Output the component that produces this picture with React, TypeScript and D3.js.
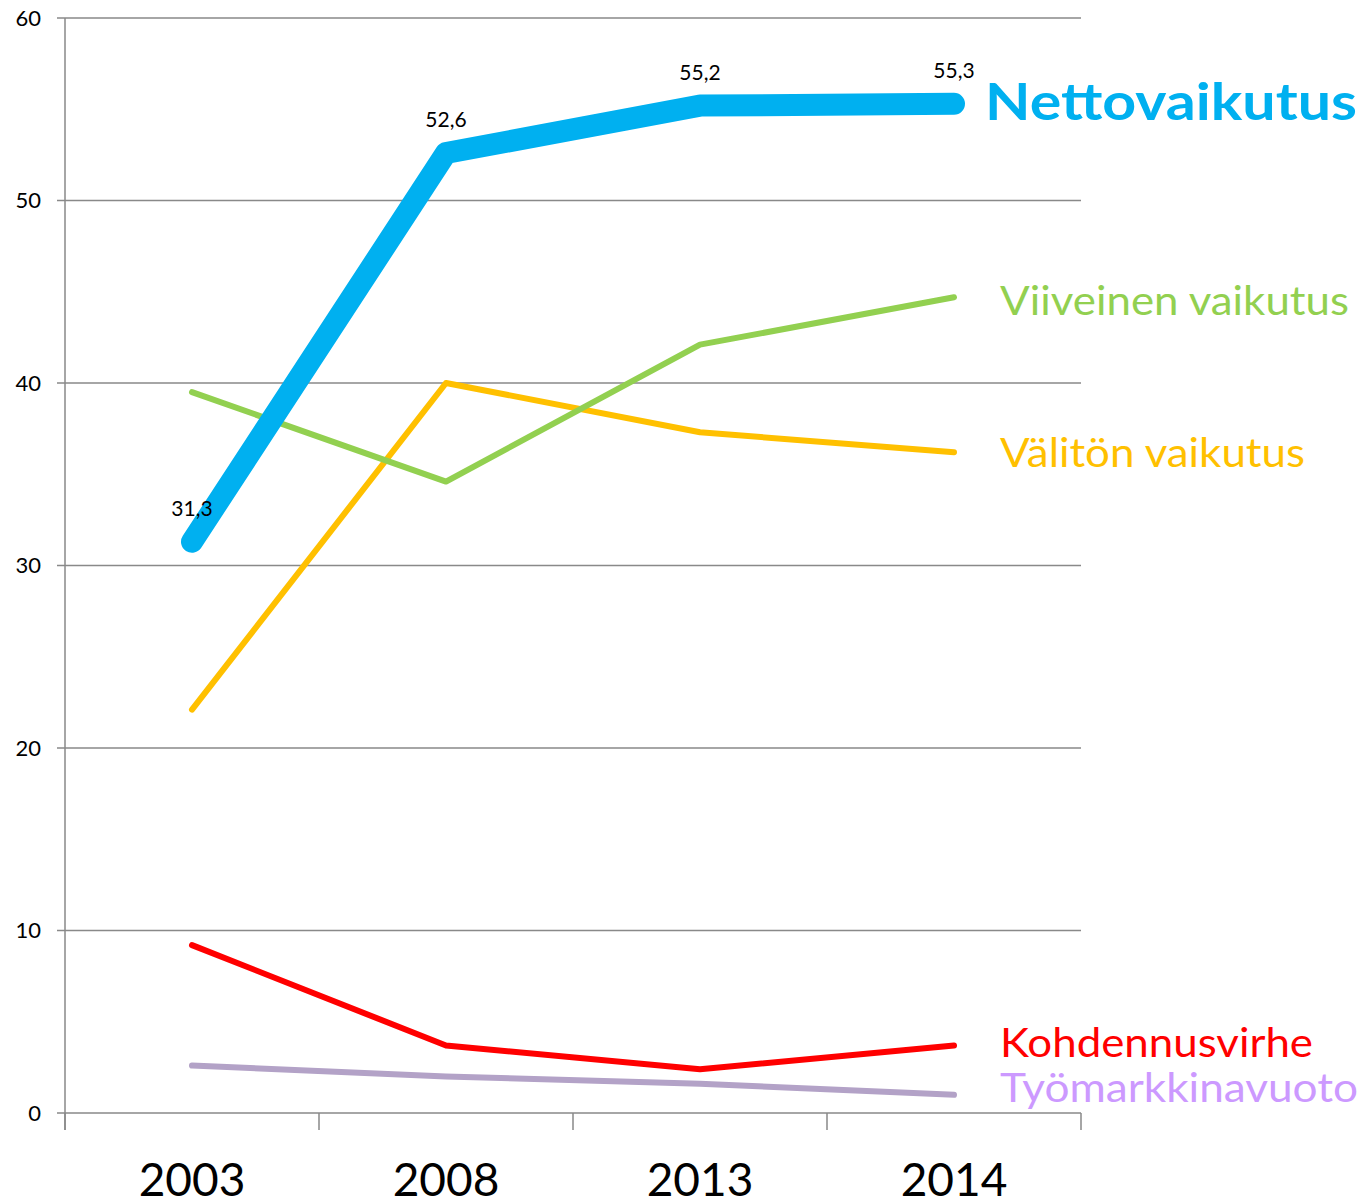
import React from "react";
import * as d3 from "d3";

const years = ["2003", "2008", "2013", "2014"];
const netto = [31.3, 52.6, 55.2, 55.3];
const viiveinen = [39.5, 34.6, 42.1, 44.7];
const valiton = [22.1, 40.0, 37.3, 36.2];
const kohdennus = [9.2, 3.7, 2.4, 3.7];
const tyomarkkina = [2.6, 2.0, 1.6, 1.0];
const yTicks = [0, 10, 20, 30, 40, 50, 60];
const nettoLabels = ["31,3", "52,6", "55,2", "55,3"];

const W = 1363, H = 1204;
const left = 65, right = 1081, top = 18, bottom = 1113;
const FONT = "Lato, 'Open Sans', sans-serif";

const series = [
  { name: "Työmarkkinavuoto", values: tyomarkkina, color: "#B3A2C7", labelColor: "#CC99FF", width: 6, labelY: 1102, size: 40, bold: false, labelX: 1000, tl: 358 },
  { name: "Kohdennusvirhe", values: kohdennus, color: "#FF0000", labelColor: "#FF0000", width: 6, labelY: 1057, size: 40, bold: false, labelX: 1000, tl: 313 },
  { name: "Välitön vaikutus", values: valiton, color: "#FFC000", labelColor: "#FFC000", width: 6, labelY: 467, size: 40, bold: false, labelX: 1000, tl: 305 },
  { name: "Viiveinen vaikutus", values: viiveinen, color: "#92D050", labelColor: "#92D050", width: 6, labelY: 315, size: 40, bold: false, labelX: 1000, tl: 349 },
  { name: "Nettovaikutus", values: netto, color: "#00B0F0", labelColor: "#00B0F0", width: 22, labelY: 120, size: 52, bold: true, labelX: 985, tl: 372 },
];

export default function App() {
  const x = d3.scaleBand<string>().domain(years).range([left, right]);
  const y = d3.scaleLinear().domain([0, 60]).range([bottom, top]);
  const cx = (i: number) => (x(years[i]) as number) + x.bandwidth() / 2;
  const line = d3.line<number>().x((_, i) => cx(i)).y((d) => y(d));
  const boundaries = [...years.map((yr) => x(yr) as number), right];

  return (
    <svg width={W} height={H} style={{ position: "absolute", left: 0, top: 0, background: "#fff" }}>
      {yTicks.map((t) => (
        <g key={t}>
          <line x1={57} x2={right} y1={y(t)} y2={y(t)} stroke="#898989" strokeWidth={1.5} />
          <text x={41} y={y(t)} dy="0.36em" textAnchor="end" fontFamily={FONT} fontSize={22} fill="#000">{t}</text>
        </g>
      ))}
      <line x1={left} x2={left} y1={top} y2={1130} stroke="#898989" strokeWidth={1.5} />
      {boundaries.map((b, i) => (
        <line key={i} x1={b} x2={b} y1={bottom} y2={1130} stroke="#898989" strokeWidth={1.5} />
      ))}
      {years.map((yr, i) => (
        <text key={yr} x={cx(i)} y={1196} textAnchor="middle" fontFamily={FONT} fontSize={46} fill="#000">{yr}</text>
      ))}
      {series.map((s) => (
        <path key={s.name} d={line(s.values) as string} fill="none" stroke={s.color} strokeWidth={s.width} strokeLinecap="round" strokeLinejoin="round" />
      ))}
      {netto.map((v, i) => (
        <text key={i} x={cx(i)} y={y(v) - 26} textAnchor="middle" fontFamily={FONT} fontSize={21} fill="#000">{nettoLabels[i]}</text>
      ))}
      {series.map((s) => (
        <text key={s.name + "l"} x={s.labelX} y={s.labelY} fontFamily={FONT} fontSize={s.size} fontWeight={s.bold ? "bold" : "normal"} fill={s.labelColor} textLength={s.tl} lengthAdjust="spacingAndGlyphs">{s.name}</text>
      ))}
    </svg>
  );
}
